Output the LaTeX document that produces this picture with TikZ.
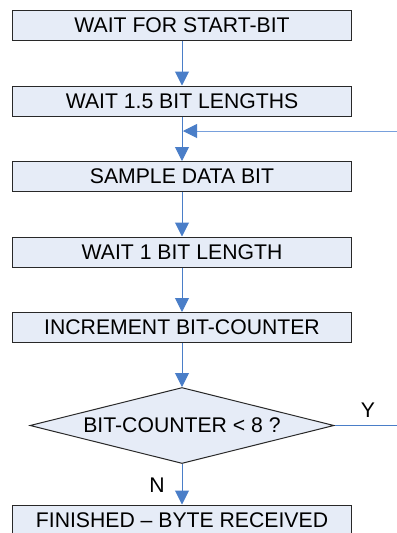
\documentclass[tikz,border=0pt]{standalone}
\usepackage{fontspec}
\setmainfont{Liberation Sans}
\usetikzlibrary{shapes.geometric,arrows.meta}
\definecolor{boxfill}{RGB}{230,236,247}
\definecolor{boxline}{RGB}{40,40,40}
\definecolor{flowblue}{RGB}{74,126,200}
\definecolor{loopblue}{RGB}{120,160,220}
\tikzset{every picture/.style={line width=0.75pt}}
\tikzset{
	procbox/.style={draw=boxline, fill=boxfill, minimum width=254.25pt, minimum height=22.5pt, inner sep=0pt, font=\fontsize{15.9}{18}\selectfont},
	decbox/.style={draw=boxline, fill=boxfill, diamond, aspect=4, minimum width=228pt, minimum height=57pt, inner sep=0pt, font=\fontsize{15.9}{18}\selectfont},
	flow/.style={draw=flowblue, -{Triangle[width=10.5pt, length=10.5pt, color=flowblue]}},
	lbl/.style={font=\fontsize{15.9}{18}\selectfont}
}

\begin{document}
\begin{tikzpicture}[x=0.75pt,y=0.75pt,yscale=-1,xscale=1]
	\useasboundingbox (0,0) rectangle (397,533);
	
	% Process boxes
	\node [procbox] (start) at (182,25) {WAIT FOR START-BIT};
	\node [procbox] (halfwait) at (182,101) {WAIT 1.5 BIT LENGTHS};
	\node [procbox] (sample) at (182,176.5) {SAMPLE DATA BIT};
	\node [procbox] (bitwait) at (182,252) {WAIT 1 BIT LENGTH};
	\node [procbox] (incr) at (182,327.5) {INCREMENT BIT-COUNTER};
	% Decision
	\node [decbox] (check) at (182,425.5) {BIT-COUNTER < 8 ?};
	\node [procbox] (done) at (182,520) {FINISHED -- BYTE RECEIVED};
	
	% Loop back point
	\coordinate (loopin) at (397,131);
	\coordinate (loopout) at (397,425.5);
	\coordinate (join) at (182,131);
	
	% Arrows
	\draw [flow] (start) -- (halfwait);
	\draw [flow] (halfwait) -- (sample);
	\draw [flow] (sample) -- (bitwait);
	\draw [flow] (bitwait) -- (incr);
	\draw [flow] (incr) -- (check);
	\draw [flow] (check) -- (done);
	\draw [flow, draw=loopblue] (loopin) -- ([xshift=0.75pt]join);
	\draw [draw=flowblue] (check.east) -- (loopout);
	
	% Labels
	\node [lbl] (yes) at (368,410) {Y};
	\node [lbl] (no) at (157,485) {N};
	
\end{tikzpicture}
\end{document}
